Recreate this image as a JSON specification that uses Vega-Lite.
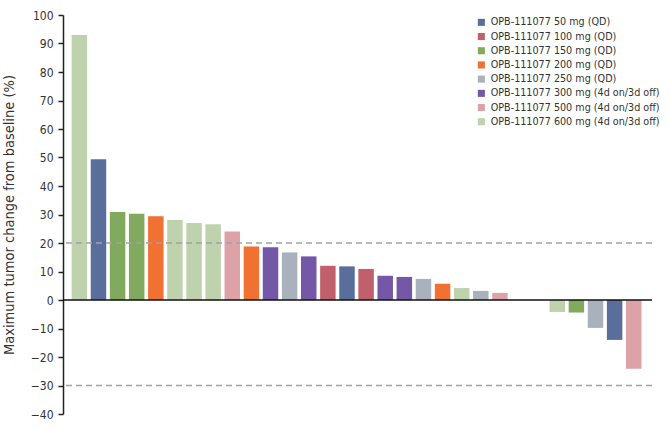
{
  "$schema": "https://vega.github.io/schema/vega-lite/v6.json",
  "width": 589,
  "height": 399,
  "padding": {"left": 63, "top": 15, "right": 18, "bottom": 15},
  "autosize": {"type": "none"},
  "background": "white",
  "config": {
    "view": {"stroke": null},
    "font": "DejaVu Sans Condensed, sans-serif"
  },
  "datasets": {
    "bars": [
      {"patient": 1, "change": 93, "dose": "OPB-111077 600 mg (4d on/3d off)"},
      {"patient": 2, "change": 49.4, "dose": "OPB-111077 50 mg (QD)"},
      {"patient": 3, "change": 30.9, "dose": "OPB-111077 150 mg (QD)"},
      {"patient": 4, "change": 30.3, "dose": "OPB-111077 150 mg (QD)"},
      {"patient": 5, "change": 29.4, "dose": "OPB-111077 200 mg (QD)"},
      {"patient": 6, "change": 28.1, "dose": "OPB-111077 600 mg (4d on/3d off)"},
      {"patient": 7, "change": 27, "dose": "OPB-111077 600 mg (4d on/3d off)"},
      {"patient": 8, "change": 26.6, "dose": "OPB-111077 600 mg (4d on/3d off)"},
      {"patient": 9, "change": 24, "dose": "OPB-111077 500 mg (4d on/3d off)"},
      {"patient": 10, "change": 18.8, "dose": "OPB-111077 200 mg (QD)"},
      {"patient": 11, "change": 18.5, "dose": "OPB-111077 300 mg (4d on/3d off)"},
      {"patient": 12, "change": 16.7, "dose": "OPB-111077 250 mg (QD)"},
      {"patient": 13, "change": 15.3, "dose": "OPB-111077 300 mg (4d on/3d off)"},
      {"patient": 14, "change": 12, "dose": "OPB-111077 100 mg (QD)"},
      {"patient": 15, "change": 11.8, "dose": "OPB-111077 50 mg (QD)"},
      {"patient": 16, "change": 10.9, "dose": "OPB-111077 100 mg (QD)"},
      {"patient": 17, "change": 8.5, "dose": "OPB-111077 300 mg (4d on/3d off)"},
      {"patient": 18, "change": 8.1, "dose": "OPB-111077 300 mg (4d on/3d off)"},
      {"patient": 19, "change": 7.4, "dose": "OPB-111077 250 mg (QD)"},
      {"patient": 20, "change": 5.7, "dose": "OPB-111077 200 mg (QD)"},
      {"patient": 21, "change": 4.2, "dose": "OPB-111077 600 mg (4d on/3d off)"},
      {"patient": 22, "change": 3.2, "dose": "OPB-111077 250 mg (QD)"},
      {"patient": 23, "change": 2.5, "dose": "OPB-111077 500 mg (4d on/3d off)"},
      {"patient": 26, "change": -4.2, "dose": "OPB-111077 600 mg (4d on/3d off)"},
      {"patient": 27, "change": -4.4, "dose": "OPB-111077 150 mg (QD)"},
      {"patient": 28, "change": -9.8, "dose": "OPB-111077 250 mg (QD)"},
      {"patient": 29, "change": -14, "dose": "OPB-111077 50 mg (QD)"},
      {"patient": 30, "change": -24.1, "dose": "OPB-111077 500 mg (4d on/3d off)"}
    ],
    "refs": [{"y": 20}, {"y": -30}],
    "zero": [{"y": 0}]
  },
  "layer": [
    {
      "data": {"name": "bars"},
      "mark": {"type": "bar"},
      "encoding": {
        "x": {
          "field": "patient",
          "type": "ordinal",
          "scale": {"domain": [1,2,3,4,5,6,7,8,9,10,11,12,13,14,15,16,17,18,19,20,21,22,23,24,25,26,27,28,29,30], "paddingInner": 0.19, "paddingOuter": 0.5, "align": 0.45},
          "axis": null
        },
        "y": {
          "field": "change",
          "type": "quantitative",
          "scale": {"domain": [-40, 100], "nice": false},
          "axis": {
            "title": "Maximum tumor change from baseline (%)",
            "titleFontSize": 14.5,
            "titleFontWeight": "normal",
            "titleColor": "#333333",
            "titlePadding": 14,
            "values": [-40,-30,-20,-10,0,10,20,30,40,50,60,70,80,90,100],
            "tickCount": 20,
            "labelOverlap": false,
            "labelFontSize": 12,
            "labelColor": "#333333",
            "labelPadding": 5,
            "tickSize": 5,
            "tickColor": "#222222",
            "tickWidth": 1.5,
            "domainColor": "#222222",
            "domainWidth": 1.5,
            "grid": false
          }
        },
        "color": {
          "field": "dose",
          "type": "nominal",
          "scale": {
            "domain": ["OPB-111077 50 mg (QD)", "OPB-111077 100 mg (QD)", "OPB-111077 150 mg (QD)", "OPB-111077 200 mg (QD)", "OPB-111077 250 mg (QD)", "OPB-111077 300 mg (4d on/3d off)", "OPB-111077 500 mg (4d on/3d off)", "OPB-111077 600 mg (4d on/3d off)"],
            "range": ["#5a6e9c", "#c0606b", "#82aa5e", "#f07132", "#a9b1bd", "#7457a6", "#dda1a8", "#bed3ad"]
          },
          "legend": {
            "title": null,
            "orient": "none",
            "legendX": 413,
            "legendY": 2,
            "symbolType": "square",
            "symbolSize": 50,
            "symbolStrokeWidth": 0,
            "labelFontSize": 10.7,
            "labelColor": "#333333",
            "labelOffset": 4,
            "rowPadding": 2.2,
            "labelLimit": 300
          }
        }
      }
    },
    {
      "data": {"name": "refs"},
      "mark": {"type": "rule", "color": "#a3a3a3", "strokeWidth": 1.5, "strokeDash": [6, 4]},
      "encoding": {"y": {"field": "y", "type": "quantitative"}}
    },
    {
      "data": {"name": "zero"},
      "mark": {"type": "rule", "color": "#111111", "strokeWidth": 1.5},
      "encoding": {"y": {"field": "y", "type": "quantitative"}}
    }
  ]
}
